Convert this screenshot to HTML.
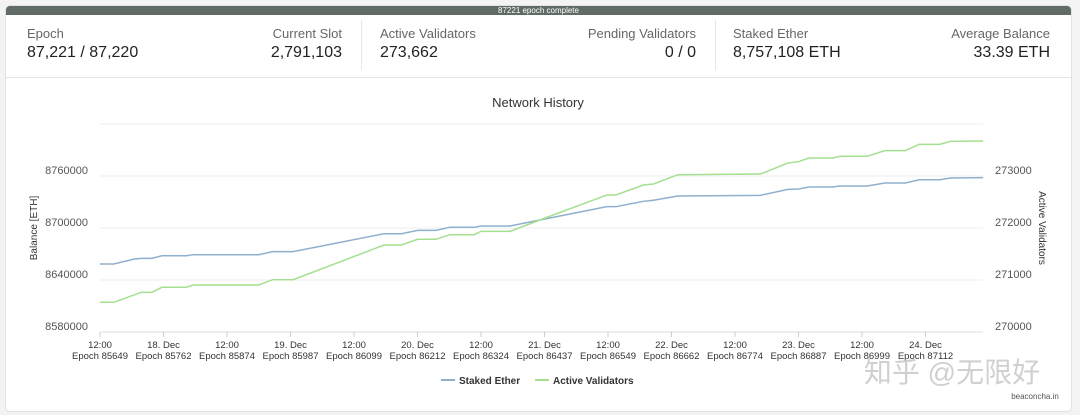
<!DOCTYPE html>
<html><head><meta charset="utf-8"><style>
*{margin:0;padding:0;box-sizing:border-box}
body{width:1080px;height:415px;background:#f3f3f3;font-family:"Liberation Sans",sans-serif;position:relative;overflow:hidden}
#card{position:absolute;left:5px;top:5px;width:1067px;height:407px;background:#fff;border:1px solid #e2e2e2;border-radius:5px;overflow:hidden}
#bar{position:absolute;left:0;top:0;width:100%;height:9px;background:#5f6b64;color:#fff;font-size:8px;line-height:9px;text-align:center}
.stat{position:absolute;top:20px}
.lbl{font-size:13px;color:#666}
.val{font-size:16px;color:#222;margin-top:3px}
.r{text-align:right}
.div{position:absolute;top:14px;width:1px;height:50px;background:#e6e6e6}
#sep{position:absolute;left:0;top:71px;width:100%;height:1px;background:#e4e4e4}
svg{position:absolute;left:0;top:0}
</style></head><body>
<div id="card">
<div id="bar">87221 epoch complete</div>
<div class="stat" style="left:21px"><div class="lbl">Epoch</div><div class="val">87,221 / 87,220</div></div>
<div class="stat r" style="right:729px"><div class="lbl">Current Slot</div><div class="val">2,791,103</div></div>
<div class="div" style="left:355px"></div>
<div class="stat" style="left:374px"><div class="lbl">Active Validators</div><div class="val">273,662</div></div>
<div class="stat r" style="right:375px"><div class="lbl">Pending Validators</div><div class="val">0 / 0</div></div>
<div class="div" style="left:709px"></div>
<div class="stat" style="left:727px"><div class="lbl">Staked Ether</div><div class="val">8,757,108 ETH</div></div>
<div class="stat r" style="right:21px"><div class="lbl">Average Balance</div><div class="val">33.39 ETH</div></div>
<div id="sep"></div>
</div>
<svg id="chart" width="1080" height="415"></svg>
<script>
const xTickTop=["12:00","18. Dec","12:00","19. Dec","12:00","20. Dec","12:00","21. Dec","12:00","22. Dec","12:00","23. Dec","12:00","24. Dec"];
const xTickEpoch=["Epoch 85649","Epoch 85762","Epoch 85874","Epoch 85987","Epoch 86099","Epoch 86212","Epoch 86324","Epoch 86437","Epoch 86549","Epoch 86662","Epoch 86774","Epoch 86887","Epoch 86999","Epoch 87112"];
const leftTicks=[8580000,8640000,8700000,8760000,8820000];
const leftTickLabels=["8580000","8640000","8700000","8760000",""];
const rightTicks=[270000,271000,272000,273000,274000];
const rightTickLabels=["270000","271000","272000","273000",""];
const stakedHours=[0,2.6,6.5,7.8,9.8,11.7,16.3,17.6,30,32.6,36.5,53.7,57,60,63.5,66.1,70.7,72,77.5,83.1,95.8,97.5,102.7,104.6,109.2,124.8,130,132,134,138.5,139.8,145,148.3,152.2,154.8,158.7,160.7,166.9];
const stakedEther=[8658500,8658500,8664200,8665000,8665000,8668000,8668000,8669200,8669200,8672700,8672700,8693400,8693400,8697300,8697300,8700800,8700800,8702300,8702300,8709200,8724600,8724600,8730800,8732000,8736900,8737700,8744600,8745000,8747300,8747300,8748500,8748500,8751900,8751900,8755700,8755700,8757700,8758100];
const valHours=[0,2.6,7.8,9.8,11.7,16.3,17.6,30,32.6,36.5,53.7,57,60,63.5,66.1,70.7,72,77.5,83.1,95.8,97.5,102.7,104.6,109.2,124.8,130,132,134,138.5,139.8,145,148.3,152.2,154.8,158.7,160.7,166.9];
const activeValidators=[270571,270571,270763,270763,270860,270860,270904,270904,271006,271006,271673,271673,271783,271783,271871,271871,271935,271935,272154,272635,272635,272827,272846,273025,273038,273250,273275,273346,273346,273379,273379,273487,273487,273609,273609,273667,273673];

const NS="http://www.w3.org/2000/svg",svg=document.getElementById('chart');
const X0=100,PXH=63.5/12,YB=332,YT=124;
const x=h=>X0+h*PXH;
const yL=v=>YB-(v-8580000)/240000*(YB-YT);
const yR=v=>YB-(v-270000)/4000*(YB-YT);
function el(t,a,txt){const e=document.createElementNS(NS,t);for(const k in a)e.setAttribute(k,a[k]);if(txt!==undefined)e.textContent=txt;svg.appendChild(e);return e;}
const title=el('text',{x:538,y:107,'text-anchor':'middle','font-size':13,fill:'#333'},'Network History');


leftTicks.forEach((v,i)=>{
  const g=el('line',{x1:X0,x2:983,y1:yL(v),y2:yL(v),stroke:i==0?'#dcdcdc':'#eeeeee','stroke-width':1});
  
  
  const t=el('text',{x:88,y:yL(v)-2,'text-anchor':'end','font-size':11,fill:'#555'},leftTickLabels[i]);
  
  
});
rightTicks.forEach((v,i)=>{
  const t=el('text',{x:995,y:yR(v)-2,'font-size':11,fill:'#555'},rightTickLabels[i]);
  
  
});
xTickTop.forEach((s,i)=>{
  const xx=X0+i*63.5;
  el('line',{x1:xx,x2:xx,y1:YB,y2:YB+5,stroke:'#ccc'});
  const a=el('text',{x:xx,y:348,'text-anchor':'middle','font-size':9.5,fill:'#333'},s);
  
  
  const b=el('text',{x:xx,y:359,'text-anchor':'middle','font-size':9.5,fill:'#333'},xTickEpoch[i]);
  
  
});
const lt=el('text',{transform:'translate(37,228) rotate(-90)','text-anchor':'middle','font-size':10,fill:'#333'},'Balance [ETH]');


const rt=el('text',{transform:'translate(1039,228) rotate(90)','text-anchor':'middle','font-size':10,fill:'#333'},'Active Validators');


const p1=el('polyline',{points:stakedHours.map((h,i)=>x(h)+','+yL(stakedEther[i])).join(' '),fill:'none',stroke:'#8fb0cc','stroke-width':1.5});


const p2=el('polyline',{points:valHours.map((h,i)=>x(h)+','+yR(activeValidators[i])).join(' '),fill:'none',stroke:'#a3e08f','stroke-width':1.5});


el('line',{x1:441,x2:455,y1:380,y2:380,stroke:'#8fb0cc','stroke-width':2});
const l1=el('text',{x:459,y:384,'font-size':10,'font-weight':'bold',fill:'#333'},'Staked Ether');


el('line',{x1:535,x2:549,y1:380,y2:380,stroke:'#a3e08f','stroke-width':2});
const l2=el('text',{x:553,y:384,'font-size':10,'font-weight':'bold',fill:'#333'},'Active Validators');


const wm=el('text',{x:952,y:382,'font-size':28,fill:'#c8c8c8','font-family':'"Liberation Sans","Noto Sans CJK SC",sans-serif',opacity:0.85},'知乎 @无限好');


const cr=el('text',{x:1035,y:399,'font-size':8,fill:'#555','text-anchor':'middle'},'beaconcha.in');


wm.setAttribute('text-anchor','middle');
</script>
</body></html>
